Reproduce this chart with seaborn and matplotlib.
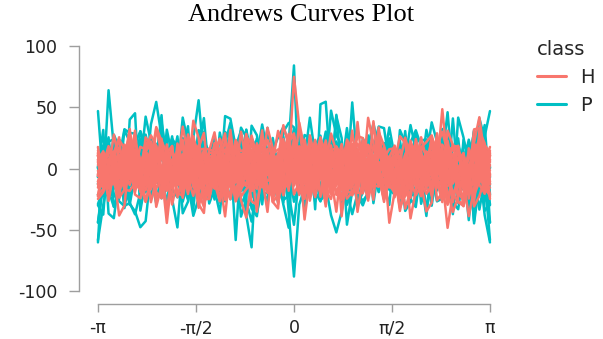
import numpy as np
import pandas as pd
import matplotlib
matplotlib.use("Agg")
import matplotlib.pyplot as plt
import matplotlib.colors as mcolors
import seaborn as sns

# ---- observations (feature vectors x0, s1, c1, s2, c2, ...) per class ----
H1 = [-3, 0, 0, 0, 7, -2, 4, 0, 2, 0, 6, 4, 5, 4, 2, -2, 2, 3, 3, 1, 1,
      1, 2, -1, 1, 3, 1, -2, 4, 4, 2, -4, 0, 3, 5, 0, -1, 4, 4, -3, 3,
      4, 1, 4, 6, -1, 4, 0, -1, -4, 2, 3, 0, -4, 6, 2, 2, 4, 2, 0, 2]
H2 = [4, -2, -1, -4, 2, 3, -3, 1, 0, -4, 1, -2, 3, 1, -2, -4, 3, 4, 4, 3,
      1, -2, 3, -4, -1, 0, 3, -2, 0, -1, 0, -2, -3, -3, 2, -4, 1, 2, 4, 3,
      -2, -3, 0, 3, -4, 3, 1, 0, -3, -1, -2, 3, -2, -1, -4, 1, 1, 0, 2, -4, 4]
H3 = [-1, 3, 0, 0, 1, -4, 4, 0, 0, -4, 0, 3, -2, -2, -1, -3, 2, -2,
      0, -1, 0, 4, 0, -4, 3, -3, -2, 3, 0, 3, -3, -3, -3, 2, 0, 0, -4, -2,
      3, 0, -3, -4, -2, 2, -4, -3, 4, -1, 3, 0, -2, -3, -3, -4, 0, 0, 0, 4,
      1, 0, 0]
H4 = [1, -2, -2, 4, 0, 3, 4, 0, 0, 4, -1, -4, -1, 3, -3, 4, 1,
      0, 0, -2, 3, 3, -3, -4, 4, 2, 0, 1, 1, 0, 4, -1, -1, 0, 0, 1, -3,
      -2, 3, 0, 2, 0, 1, 0, 3, -2, -1, -1, 2, 3, 1, 2, 3, -1, -3, 1, 0,
      -2, 2, -3, -2]
H5 = [-4, -3, 4, -4, 4, -3, 0, 0, 1, 0, 3, 0, 1, 1, 4, -2,
      -1, 0, 1, -4, -1, 0, 3, 1, -3, -4, 0, 0, 0, -1, -2, 1, 1, 0, 3, -2,
      -3, -1, -1, 4, -1, 1, -4, 2, -2, 1, -4, -2, 0, 4, -3, 0, -3, -2, 2, -1,
      2, -2, 0, 0, 3]
H6 = [2, -4, -4, 1, 1, -4, 1, -1, -3, 0, 0, 3, 3, -3, 2,
      0, 3, 3, -3, 0, -2, -4, 4, -2, -4, 4, 1, -2, 3, -2, 4, -2, 0, 0, -4,
      4, -3, 2, -3, 0, -1, 1, 0, -1, 1, 2, 3, 4, -2, 0, 4, -4, -1, 1, -4,
      -4, -3, -3, -1, -1, -4]
H7 = [0, -1, -4, 0, 0, 3, 3, -2, -4, 0, 1, 1, 0, -2,
      -3, -1, 3, 0, -3, 0, 1, 4, 0, -3, 4, 0, -3, 0, -3, -3, 1, -4, 4, 0,
      -1, -1, -4, 0, 2, -2, 2, -4, -1, 1, 0, 2, 0, 4, 0, 4, -3, 4, 0, -1,
      -4, 4, -2, -3, 3, 1, -3]
H8 = [-3, 2, -1, 3, -3, 4, -1, -2, 1, -3, -3, 2, 4,
      -1, -3, -4, 0, -3, -3, 3, 0, 0, 3, -4, 2, 0, 0, 1, -2, -1, 2, 4, 4,
      1, -2, 2, 0, 4, 0, 1, 2, -1, 0, -3, 3, 3, 0, 2, 0, -2, 2, -2, 0,
      3, 4, -3, -2, -2, 2, 4, -1]
H9 = [2, -3, 3, -2, 3, -3, 3, -2, 3, 0, 0, 4, -4, 0, 0, -2, -1, 0, -1, 1,
      -4, -2, 3, 2, 0, 2, -3, -1, 0, -2, 1, 1, -2, 0, 4, 2, 2, 0, 2, -2,
      0, 2, -4, 4, -1, 1, 4, 4, 4, 0, 4, 0, 2, 0, 4, 1, 1, 4, 1, 2, 1]
H10 = [-2, 2, 2, -2, 0, -4, 2, 1, 1, -1, -4, -1, 0, -1, 0, 0, 2, 0, 4,
       0, 0, 2, -3, -1, 3, -2, -3, 2, 3, 0, -2, 0, -3, 1, 1, 0, -2, 2, 0,
       -2, 2, 0, 1, 1, -1, 4, -3, 4, -1, -2, -4, -4, -1, -4, 0, 4, 4, -2, -3,
       3, -3]
H11 = [4, 3, -1, -1, 1, 2, -1, -1, 1, -2, 0, 0, -4, 1, 0, 1, 1, 0, -1, -4,
       3, 1, -4, -2, -3, -1, 4, 0, 4, 0, 1, -1, 4, 0, -2, -2, 0, 2, -1, 2,
       -3, 4, -4, 2, -4, -2, -3, 2, 4, 3, 1, -4, 4, 0, -1, 2, -4, -2, 2, 2, -4]
H12 = [0, -1, 4, -2, -3, 2, -3, 2, 1, -2, 4, -1, -3, 2, 1, 2, 0, -2, -1,
       3, 0, 1, 2, 0, 3, -3, 3, 0, 1, 2, 1, 1, 4, 0, -4, 0, -3, -1, -2,
       -4, -4, -4, 0, 1, 3, -3, -2, 2, -3, 0, 0, -2, 1, -1, 0, 1, -4, 3, -2,
       2, 2]
H13 = [3, 0, 2, 2, -3, -1, 0, -2, 2, 0, 2, 2, 3, 4, 1, -4, 4, -3,
       2, -1, 1, -1, 2, -3, 2, 3, 2, -2, -3, 0, 1, 3, 0, 0, -4, 4, -4, -3,
       -2, -2, 0, 4, 0, -1, 0, -1, -4, -3, 0, 1, 0, 0, 4, 0, 3, 0, -1, 2,
       -3, -4, 0]
H14 = [-4, 2, 4, -2, -2, 2, 4, 1, 3, 4, -2, 0, 3, 4, -2, -1, 0,
       0, -2, -4, -3, 4, 4, 0, 1, -3, -3, -2, -3, -2, 4, -4, -2, -3, 4, 1, -4,
       3, 1, 0, -4, -1, 0, 0, -3, 3, -3, 0, 4, 3, -3, -1, 1, -2, 4, 2, 2,
       0, 2, 2, -3]
H15 = [-1, -4, 4, 4, 1, -4, 0, -3, 3, 2, -4, 2, -2, -3, -3, -1,
       0, 4, 4, 4, 4, 4, 4, 3, -1, 2, -2, 4, 2, 3, -4, 0, 4, 4, 0, -3,
       -4, 0, 4, 2, -1, -3, 2, -1, -2, 3, -3, 1, -4, 4, 1, -1, -3, 3, 0, 4,
       0, -4, -2, 0, 0]
H16 = [0, 4, 0, 0, 0, -1, 0, 1, 4, -4, 3, -1, -4, -2, 1,
       0, -2, 0, -2, -2, -1, -4, 3, -2, 0, -1, -1, 0, 0, 1, 3, 0, -4, -1, 0,
       -2, 1, -3, 4, -1, -3, -3, 3, 3, -3, 2, -3, -4, -3, -4, -4, -4, -1, -3, -1,
       2, 3, -1, 3, 2, 0]
H17 = [-2, 3, 3, 1, 0, 3, 2, 0, -1, -1, -2, -4, 3, -1,
       3, -3, 0, -2, -4, 1, -3, 2, -3, 2, 2, 1, 1, 4, -3, 0, 2, -1, -4, -1,
       0, 4, 3, -2, 0, -1, 0, 4, -4, 0, -2, 3, 2, 0, 0, 0, 1, 3, 2, -1,
       -3, -3, 0, 4, 0, 1, -2]
H18 = [3, 1, -1, 3, 3, -2, -1, 0, -1, 2, 3, 2, 0,
       4, -1, 2, 0, -3, 4, 0, 2, 2, 3, -3, 3, 0, 2, 2, 3, -4, 0, -1, -2,
       -3, 2, -3, -2, -2, 1, 3, -4, 1, 1, -3, -1, -4, -4, -3, 4, -2, 2, 3, 2,
       1, 1, -3, -3, -3, 4, 0, 4]
H19 = [-1, 3, -4, 4, 0, -2, 0, 2, -2, -4, -3, -4, 1, 0, 0, 3, 0, 3, 1, -1,
       -2, 2, 3, 3, 1, 0, 4, -1, 1, -3, 0, -1, -1, 3, -3, 3, -2, 2, 4, 1,
       3, -2, -1, -4, -1, -4, -3, 4, 0, -2, -4, -1, 0, -1, -4, -3, 3, 0, -2, 4]
H20 = [1, 3, 4, 4, 0, 2, 2, -1, 1, -2, -2, 0, 4, 4, 0, -3, -1, 3, 4, -3,
       -2, 0, 4, 2, -2, -3, 2, 2, 0, -2, 3, -1, 0, 2, 4, -3, -1, -3, 0, -3,
       0, 0, 2, 0, 3, 0, 2, -2, 0, -2, 0, 0, 0, -3, 0, -4, 1, 4, 0, 4]
H21 = [0, -4, 3, -2, 4, 0, -1, -1, -3, -3, 1, 3, 1, -3, 2, -2, 2, 3, 0, 0,
       3, 3, 4, -4, 2, 0, -4, 4, 3, -1, 3, -3, 2, 0, 0, 1, -1, 2, 0, 1,
       0, 4, -1, 4, -1, -3, 4, -2, 0, 0, -4, 1, -4, 0, -4, -4, 4, -2, 2, 2]
H22 = [-4, -3, 1, 2, -3, -3, -1, 4, -4, -4, 4, 3, 0, 3, 3, -2, 0, -4, -3, -2,
       3, 0, 3, -1, 1, -3, 1, -4, -1, 0, 1, -1, 2, -4, 2, 1, 1, -4, -3, -4,
       0, 2, -3, -4, -3, 3, -3, 4, 0, -2, 4, 0, 0, 0, 4, 1, -3, 4, 3, 4]
H23 = [0, 1, 2, 1, 2, 3, -1, 2, 0, 0, 4, 0, 0, 3, -2, 0, 0, -1, 2, 4,
       2, 2, 0, 2, -2, 1, 3, 0, 2, -3, -4, 0, -4, 0, 2, 0, -1, 0, 1, 0,
       1, -2, -4, 3, -4, 0, 1, 1, 3, 0, -2, 0, 4, -4, 1, 4, 0, 4, -3, -2]
H24 = [4, -1, -1, -3, -1, 1, 2, 2, -4, -2, 3, 4, 3, 4, -3, 0, -2, -3, -4, 0,
       2, 0, -2, -3, 1, -2, -4, 0, 1, 4, 1, 1, -4, -2, 0, -4, 0, 3, -4, -1,
       3, -3, 0, -4, -3, 4, -1, 0, -3, -3, -2, 0, -1, -1, 3, -2, 0, -1, -4, -4]
H25 = [-1, 0, 0, 3, 2, 1, 0, -4, -2, 0, 2, 0, 4, 1, 0, 2, -1, -2, 1, -1,
       4, -3, 0, -3, 4, 4, -2, 2, -2, 1, -4, 0, -2, 1, 4, 4, -2, -2, 2, 4,
       1, 2, 3, -2, -1, 0, 0, 2, 3, -3, 1, -1, 1, -4, -4, 4, -1, 0, -3, 2]
H26 = [-2, -3, 1, 0, -3, -2, -3, 4, 4, -2, 0, 0, 3, 1, -1, -3, 0, -4, -1, -4,
       -2, 3, 1, -3, 3, -2, 4, 2, 0, 0, 0, 0, 2, -4, 1, 2, 0, 4, 3, -1,
       3, 0, -4, 0, 0, 4, 0, 0, 3, 3, 0, 3, 1, 4, -2, 1, 4, 4, 0, 1]
H27 = [4, -4, 4, -2, 2, -2, -3, -4, 2, 4, 2, 0, -4, 4, -1, -4, -2, 4, 0, 0,
       -1, -2, -3, -3, 1, 0, -1, 0, 0, 4, 3, 2, -2, -4, -2, 2, 0, 0, 4, 1,
       -4, -2, -1, 1, 0, 3, -4, 1, 1, 0, 0, 4, 4, -3, -3, 4, 3, 3, -3, 3]
H28 = [-1, 0, 2, 4, 2, 2, 0, -1, 0, 1, 1, -1, 1, 4, 3, -4, 2, 0, -2, 1,
       0, 0, -2, 0, -2, 2, 3, 1, -2, 0, 0, -3, 3, -3, 3, 0, -3, 2, 0, 2,
       0, 1, 2, -2, 3, 4, -4, 4, 2, 2, 2, 2, -2, 2, 4, -1, 3, -4, -4, -4]

P1 = [3, 0, -1, -1, 3, 5, 4, 1, 0, 5, -2, 0, 2, 0, 6, -3, 8, -5, -2, -1, 2,
      0, -1, 5, 2, -3, 3, -5, 2, 5, 2, 1, 1, -5, 5, -1, 6, -4, 1, -3, 1,
      -3, 6, 1, -1, 3, 7, 0, 1, 0, 7, -5, 5, 1, 1, -3, 1, -1, 6, -3, 7]
P2 = [4, 4, -8, 3, -3, -1, -7, 5, -3, -3, -3, -4, -8, -4, 2, -5, -7, -4, -3, 3, -4,
      4, -4, 0, -7, 4, 0, 5, -4, -5, 0, -5, -5, -4, -2, 0, -7, 4, 3, -4, -2,
      5, 3, -1, -2, 4, 2, 0, -6, 1, 1, 0, -7, 5, -5, 0, -2, 3, -1, -4, -2]
P3 = [1, -5, 3, 1, 2, -5, 6, -3, -5, 1, 2, 4, -7, -5, -2, 1, 2, 0, 5, 3, -2,
      -4, -2, 4, -2, -1, 5, 0, -5, -1, 2, 0, -2, 0, -1, 0, -2, 3, -3, -5, 2,
      0, 0, 5, -6, 3, 4, 3, -1, 0, 6, 5, -4, -5, 2, 5, -1, 0, -3, 3, -6]
P4 = [-3, 3, -2, -4, 7, -1, 1, 1, -2, 1, -6, 1, -1, -1, -4, -4, 1, 4, -2, 0, 6,
      -1, -7, -5, -3, 3, -2, -3, -3, 0, -2, 5, 1, -1, 2, -3, 3, 0, -1, -5, -1,
      5, 1, 1, -3, 1, 1, -1, 5, -4, -6, -1, -1, -5, -7, 3, -3, 5, -3, -3, 6]
P5 = [3, -5, 5, -4, -3, 3, 0, 0, -1, 3, 0, 3, -5, 0,
      3, -3, -1, -5, 1, 5, 1, 5, 3, 3, -3, -5, 5, -1, -4, -5, -4, 0, -4, 1,
      5, -3, 4, -1, 1, 4, -4, 5, -5, -3, 0, 0, -4, 0, -4, -5, 4, 1, 0, 3,
      0, 1, -1, 3, 3, -3, -4]
P6 = [-4, -4, -3, 0, -3, -1, 4, 5, 3, 4, 0, 0, -3,
      0, -5, 0, 1, 5, 0, -1, 1, 5, 1, 3, 3, -5, 3, 4, 0, 0, 0, 5, 5,
      1, 5, 5, 1, 3, 5, 0, 1, 4, 1, 0, 0, 0, 0, 5, -5, 0, 5, 4, 3,
      5, -1, -4, 1, -1, 1, 4, 4]
P7 = [0, -4, 0, -3, -4, -1, 0, 1, -3, -1, 3, -1, -5, 5, 0, -5, 0, 4, 4, -5,
      -4, 1, 4, 4, 3, -3, 0, -3, -5, 5, 1, 5, 4, -5, 3, 4, 0, 1, 5, 1,
      3, -4, 4, 3, 0, -1, 3, 1, 5, 0, 4, -5, 3, -1, -4, 3, 1, 1, 3, 5, 3]
P8 = [-1, 3, 5, 5, -5, 3, -1, -3, 0, 3, 4, 0, 1, -3, -4, -5, 3, -5, -1,
      4, 4, 0, -5, -1, 4, 3, 0, -1, 0, -1, -3, 3, 1, 0, -4, 0, 3, -3, 3,
      -1, 0, -5, -4, -1, 4, 0, 1, -3, -1, -5, 5, -4, -3, -3, 5, 3, -5, -3, 0,
      5, -3]
P9 = [0, 4, -1, 1, -5, 0, 0, 4, 0, -5, 3, -1, 3, -3, -4, -3, 1, 0,
      0, -4, -3, -4, 0, 5, 3, -5, 5, 5, 5, -1, 0, 4, -1, -4, 0, -4, -1, -3,
      -3, -3, 1, 1, 0, 5, -3, 3, 0, -5, 0, 0, 5, -3, 3, 0, 0, 3, 5, 5,
      5, 0, -5]
P10 = [4, -4, 1, 0, 3, -5, 1, -5, -5, -4, 1, -4, 0, 0, -3, 0, 5, -4, 5, -3,
       -4, 3, -1, -3, -4, 3, -3, -4, 0, 3, 3, -3, -1, 0, -5, -4, 0, -4, 0, 0,
       -4, 5, 3, -1, 0, 1, 4, 0, 0, 4, -4, 1, -4, -1, 1, -4, -4, 0, 3, -1]
P11 = [0, -3, 0, 0, -3, -4, -1, -1, 0, 3, 0, 3, 0, -4, 4, 0, 5, 0, 1, 4,
       0, -1, 4, 0, -3, -1, -1, -3, -1, 5, -5, 3, -1, 5, 0, -4, 0, -1, -1, -1,
       0, 0, 0, 3, 3, 1, -3, 0, -4, 1, 4, 1, -3, 0, -4, 4, 5, 4, -1, 0]
P12 = [1, 5, 0, 4, 0, 0, 1, -3, -5, 5, 5, -3, -4, 5, -3, -3, -3, -4, 4, 0,
       -3, 3, -3, 0, 0, -5, -3, 0, 0, -3, 0, 1, 4, 4, 3, 1, 3, -4, 3, 5,
       -5, 0, 5, 0, 1, -5, -4, 1, 0, -1, 0, 1, 1, 4, -5, 0, 5, 4, 4, 1]
P13 = [5, -4, 4, 7, 2, 4, 7, 4, 2, 2, 5, -5, -1, 1, -1, -5, -7, -7, 7, 1,
       -2, 5, 5, -2, 4, 5, 2, -2, 2, -7, 7, 1, -7, 2, 5, -7, -7, 2, -1, -4,
       -4, 1, -5, -4, 1, -4, -7, 1, -5, -5, 4, -2, 7, -4, 7, 5, -1, 5, 7, 2]
P14 = [-7, 5, -1, -5, -4, 5, -1, 5, 5, 2, -4, 2, 7, -1, 1, 2, -7, -1, -4, -1,
       -5, 7, 2, 1, -4, 5, 1, -7, -4, -4, -4, -5, -7, 2, 2, -5, -5, 5, 2, -2,
       -7, 2, 4, -1, -1, -4, 4, 5, 2, -4, -4, -7, -2, 7, -5, 7, -1, 7, -1, 1]
P15 = [-7, -1, 4, -5, -4, -2, 4, -5, -2, 4, 5, 2, 7, 2, -7, 7, 1, 2, -2, 2,
       -1, -2, 4, -5, 7, -5, 4, -4, 5, 4, -1, 2, 4, 4, 2, -1, 2, 1, 4, 1,
       4, -2, 7, 2, -4, -1, -5, -2, 5, 7, -7, 5, 2, 1, 5, -2, -4, 2, -1, 1]

h_rows = [H1, H2, H3, H4, H5, H6, H7, H8, H9, H10, H11, H12, H13, H14,
          H15, H16, H17, H18, H19, H20, H21, H22, H23, H24, H25, H26,
          H27, H28]
p_rows = [P1, P2, P3, P4, P5, P6, P7, P8, P9, P10, P11, P12, P13, P14, P15]
class_order = ["H", "P"]
class_colors = {"H": "#F8766D", "P": "#00BFC4"}

tick_values = [-np.pi, -np.pi / 2, 0, np.pi / 2, np.pi]
tick_labels = ["-\u03c0", "-\u03c0/2", "0", "\u03c0/2", "\u03c0"]
y_ticks = [-100, -50, 0, 50, 100]

n_samples = 75


def andrews_curve(x, t):
    x = np.asarray(x, dtype=float)
    f = np.full_like(t, x[0] / np.sqrt(2.0))
    for i, v in enumerate(x[1:]):
        k = i // 2 + 1
        f = f + v * (np.sin(k * t) if i % 2 == 0 else np.cos(k * t))
    return f


t = np.linspace(-np.pi, np.pi, n_samples)
frames = []
uid = 0
for cls, rows in (("H", h_rows), ("P", p_rows)):
    for row in rows:
        frames.append(pd.DataFrame({"t": t, "value": andrews_curve(row, t),
                                    "class": cls, "id": uid}))
        uid += 1
df = pd.concat(frames, ignore_index=True)

sns.set_style("white")
plt.rcParams["font.family"] = ["DejaVu Sans"]
plt.rcParams["axes.unicode_minus"] = False

fig = plt.figure(figsize=(6.03, 3.39), dpi=100)
ax = fig.add_axes([0.131, 0.1032, 0.713, 0.7994])

sns.lineplot(data=df, x="t", y="value", hue="class", units="id",
             estimator=None, sort=False, hue_order=class_order,
             palette=class_colors, linewidth=1.8, ax=ax)

# H drawn over P
h_hex = mcolors.to_hex(class_colors["H"]).lower()
for ln in ax.lines:
    if mcolors.to_hex(ln.get_color()).lower() == h_hex:
        ln.set_zorder(3)
    else:
        ln.set_zorder(2)

ax.set_xlim(-np.pi - 0.304, np.pi + 0.304)
ax.set_ylim(-110.6, 110.6)
ax.set_xticks(tick_values)
ax.set_xticklabels(tick_labels)
ax.set_yticks(y_ticks)
ax.set_xlabel("")
ax.set_ylabel("")

sns.despine(ax=ax)
spine_col = "#9e9e9e"
for s in ["left", "bottom"]:
    ax.spines[s].set_color(spine_col)
    ax.spines[s].set_linewidth(1.0)
ax.spines["left"].set_bounds(-100, 100)
ax.spines["bottom"].set_bounds(-np.pi, np.pi)
ax.tick_params(axis="y", length=7.5, width=1.0, color=spine_col, pad=8,
               labelsize=12.5, labelcolor="#222222", left=True)
ax.tick_params(axis="x", length=6, width=1.0, color=spine_col, pad=5,
               labelsize=12.5, labelcolor="#222222", bottom=True)

sns.move_legend(ax, loc="upper left", bbox_to_anchor=(0.890, 0.882),
                bbox_transform=fig.transFigure, frameon=False,
                title="class", fontsize=14, title_fontsize=14,
                handlelength=1.5, handletextpad=0.75, labelspacing=0.45,
                borderpad=0, borderaxespad=0)
leg = ax.get_legend()
leg._legend_box.align = "left"
for lh in leg.get_lines():
    lh.set_linewidth(2.2)

fig.text(0.5, 1 - 21 / 339, "Andrews Curves Plot", ha="center",
         va="baseline", fontsize=19, family=["Liberation Serif"],
         color="black")

fig.savefig("out.png", dpi=100)
